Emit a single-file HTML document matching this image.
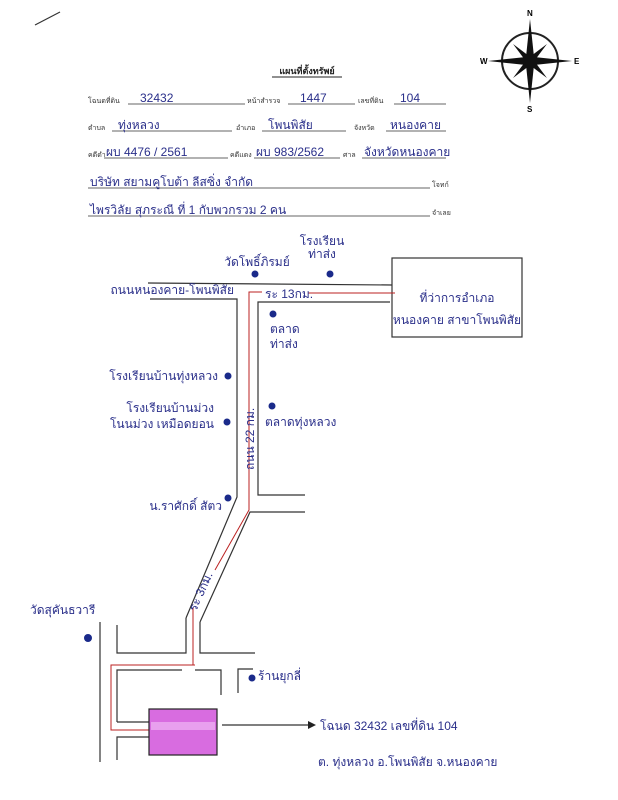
<!DOCTYPE html>
<html><head><meta charset="utf-8"><style>
html,body{margin:0;padding:0;background:#fff;}
svg{display:block;}
text{font-family:"Liberation Sans","Noto Sans CJK SC",sans-serif;}
.h{fill:#2a2f8a;font-size:12px;}
.s{fill:#333;font-size:7px;}
</style></head><body>
<svg width="618" height="800" viewBox="0 0 618 800" xmlns="http://www.w3.org/2000/svg">
<line x1="35" y1="25" x2="60" y2="12" stroke="#333" stroke-width="1.2"/>
<g transform="translate(530,61)">
<circle r="28" fill="none" stroke="#222" stroke-width="2"/>
<g fill="#111">
<polygon points="0,-42 4,-4 0,0 -4,-4"/>
<polygon points="0,42 4,4 0,0 -4,4"/>
<polygon points="-42,0 -4,-4 0,0 -4,4"/>
<polygon points="42,0 4,-4 0,0 4,4"/>
<g transform="rotate(45)">
<polygon points="0,-24 3,-3 0,0 -3,-3"/><polygon points="0,24 3,3 0,0 -3,3"/>
<polygon points="-24,0 -3,-3 0,0 -3,3"/><polygon points="24,0 3,-3 0,0 3,3"/>
</g></g>
</g>
<text x="527" y="16" font-size="8" font-weight="bold">N</text>
<text x="527" y="112" font-size="8" font-weight="bold">S</text>
<text x="480" y="64" font-size="8" font-weight="bold">W</text>
<text x="574" y="64" font-size="8" font-weight="bold">E</text>
<text x="307" y="74" text-anchor="middle" font-size="9" font-weight="bold" fill="#222">แผนที่ตั้งทรัพย์</text>
<line x1="272" y1="77" x2="342" y2="77" stroke="#222"/>
<g stroke="#333" stroke-width="0.8">
<line x1="128" y1="104" x2="245" y2="104"/><line x1="288" y1="104" x2="355" y2="104"/><line x1="394" y1="104" x2="446" y2="104"/>
<line x1="112" y1="131" x2="232" y2="131"/><line x1="262" y1="131" x2="346" y2="131"/><line x1="386" y1="131" x2="446" y2="131"/>
<line x1="104" y1="158" x2="228" y2="158"/><line x1="254" y1="158" x2="340" y2="158"/><line x1="362" y1="158" x2="446" y2="158"/>
<line x1="88" y1="188" x2="430" y2="188"/><line x1="88" y1="216" x2="430" y2="216"/>
</g>
<text class="s" x="88" y="103">โฉนดที่ดิน</text><text class="h" x="140" y="102">32432</text>
<text class="s" x="247" y="103">หน้าสำรวจ</text><text class="h" x="300" y="102">1447</text>
<text class="s" x="358" y="103">เลขที่ดิน</text><text class="h" x="400" y="102">104</text>
<text class="s" x="88" y="130">ตำบล</text><text class="h" x="118" y="129">ทุ่งหลวง</text>
<text class="s" x="236" y="130">อำเภอ</text><text class="h" x="268" y="129">โพนพิสัย</text>
<text class="s" x="354" y="130">จังหวัด</text><text class="h" x="390" y="129">หนองคาย</text>
<text class="s" x="88" y="157">คดีดำ</text><text class="h" x="106" y="156" font-size="9">ผบ 4476 / 2561</text>
<text class="s" x="230" y="157">คดีแดง</text><text class="h" x="256" y="156" font-size="9">ผบ 983/2562</text>
<text class="s" x="343" y="157">ศาล</text><text class="h" x="364" y="156" font-size="10">จังหวัดหนองคาย</text>
<text class="h" x="90" y="186">บริษัท  สยามคูโบต้า  ลีสซิ่ง  จำกัด</text><text class="s" x="432" y="187">โจทก์</text>
<text class="h" x="90" y="214">ไพรวิลัย  สุภระณี  ที่ 1  กับพวกรวม  2  คน</text><text class="s" x="432" y="215">จำเลย</text>
<g stroke="#333" stroke-width="1.2" fill="none">
<line x1="148" y1="283" x2="392" y2="285"/>
<polyline points="150,299 237,299 237,497 186,618"/>
<polyline points="390,302 258,302 258,495 305,495"/>
<polyline points="305,512 250,512 200,622"/>
<rect x="392" y="258" width="130" height="79"/>
</g>
<g stroke="#b22" stroke-width="1" fill="none">
<polyline points="395,293 308,293"/><polyline points="262,292 249,292 249,510 215,570"/>
<line x1="193" y1="608" x2="193" y2="665"/>
</g>
<g fill="#1a2a8a">
<circle cx="255" cy="274" r="3.5"/><circle cx="330" cy="274" r="3.5"/><circle cx="273" cy="314" r="3.5"/>
<circle cx="228" cy="376" r="3.5"/><circle cx="272" cy="406" r="3.5"/><circle cx="227" cy="422" r="3.5"/>
<circle cx="228" cy="498" r="3.5"/><circle cx="88" cy="638" r="4"/><circle cx="252" cy="678" r="3.5"/>
</g>
<text class="h" x="322" y="245" font-size="9" text-anchor="middle">โรงเรียน</text><text class="h" x="322" y="258" font-size="9" text-anchor="middle">ท่าส่ง</text>
<text class="h" x="257" y="266" font-size="9" text-anchor="middle">วัดโพธิ์ภิรมย์</text>
<text class="h" x="234" y="294" font-size="7.5" text-anchor="end">ถนนหนองคาย-โพนพิสัย</text>
<text class="h" x="265" y="298" font-size="8">ระ 13กม.</text>
<text class="h" x="270" y="333" font-size="9">ตลาด</text><text class="h" x="270" y="348" font-size="9">ท่าส่ง</text>
<text class="h" x="218" y="380" font-size="9" text-anchor="end">โรงเรียนบ้านทุ่งหลวง</text>
<text class="h" x="214" y="412" font-size="9" text-anchor="end">โรงเรียนบ้านม่วง</text><text class="h" x="214" y="428" font-size="9" text-anchor="end">โนนม่วง เหมือดยอน</text>
<text class="h" x="265" y="426" font-size="9">ตลาดทุ่งหลวง</text>
<text class="h" x="222" y="510" font-size="8" text-anchor="end">น.ราศักดิ์ สัตว</text>
<text class="h" x="457" y="302" font-size="10" text-anchor="middle">ที่ว่าการอำเภอ</text><text class="h" x="457" y="324" font-size="9" text-anchor="middle">หนองคาย สาขาโพนพิสัย</text>
<text class="h" font-size="9" transform="translate(254,470) rotate(-90)">ถนน 22 กม.</text>
<text class="h" font-size="10" transform="translate(196,612) rotate(-66)">ระ 3กม.</text>
<g stroke="#333" stroke-width="1.2" fill="none">
<line x1="100" y1="622" x2="100" y2="762"/>
<polyline points="117,625 117,653 186,653 186,618"/>
<polyline points="200,622 200,653 255,653"/>
<polyline points="117,722 117,670 182,670"/>
<polyline points="195,670 221,670 221,695"/>
<polyline points="238,693 238,669 253,669"/>
<line x1="117" y1="722" x2="149" y2="722"/>
<polyline points="149,737 117,737 117,760"/>
<line x1="222" y1="725" x2="308" y2="725"/>
</g>
<polygon points="308,721 316,725 308,729" fill="#222"/>
<g stroke="#b22" stroke-width="1" fill="none"><polyline points="195,665 111,665 111,730 149,730"/></g>
<rect x="149" y="709" width="68" height="46" fill="#d86ce0" stroke="#222" stroke-width="1.2"/>
<rect x="151" y="722" width="64" height="8" fill="#e8a0ee"/>
<text class="h" x="30" y="614" font-size="10">วัดสุคันธวารี</text>
<text class="h" x="258" y="680" font-size="9">ร้านยุกลี่</text>
<text class="h" x="320" y="730" font-size="12">โฉนด 32432 เลขที่ดิน 104</text>
<text class="h" x="318" y="766" font-size="11">ต. ทุ่งหลวง  อ.โพนพิสัย  จ.หนองคาย</text>
</svg>
</body></html>
